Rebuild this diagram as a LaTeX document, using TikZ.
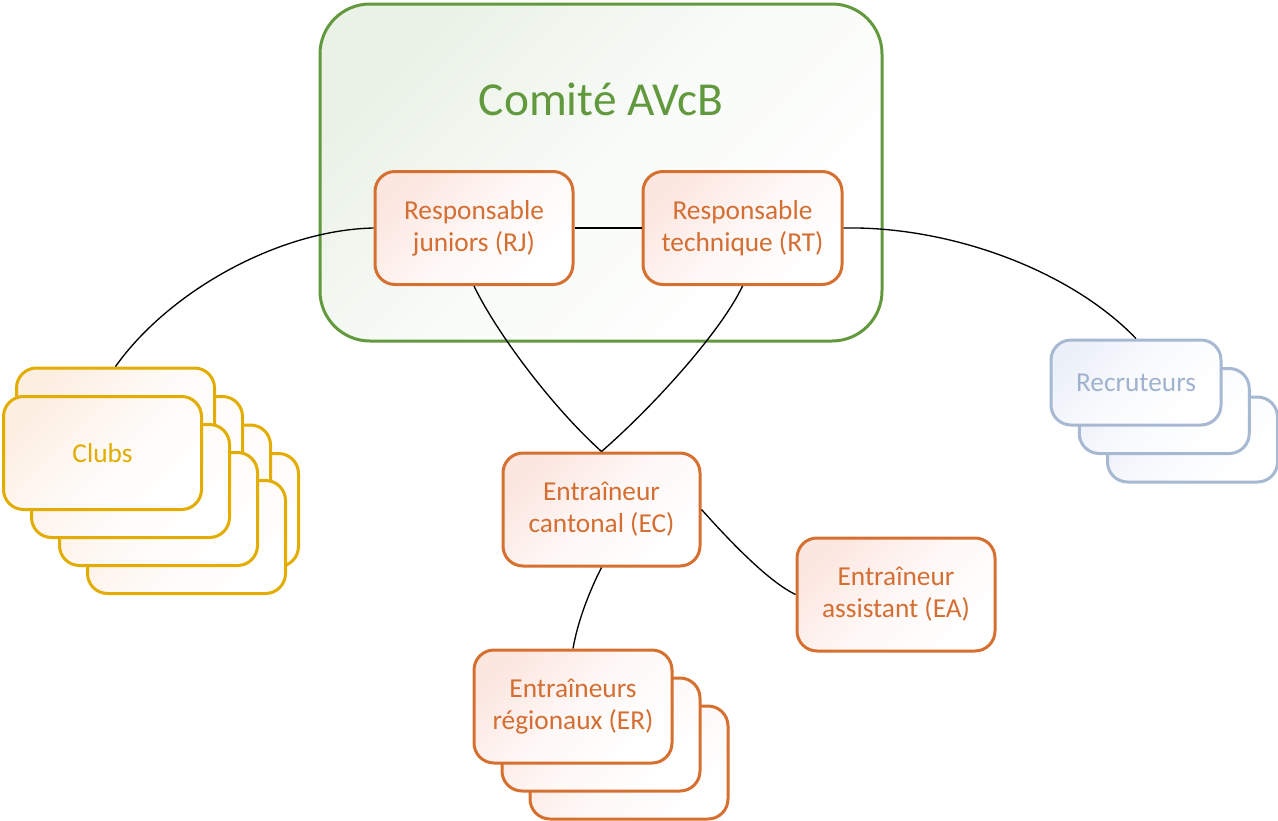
\documentclass[tikz,border=0pt]{standalone}
\usepackage{fontspec}
\setmainfont{Carlito}
\definecolor{cgreen}{RGB}{98,153,62}
\definecolor{gfill}{RGB}{234,242,231}
\definecolor{corange}{RGB}{214,112,48}
\definecolor{otext}{RGB}{212,110,50}
\definecolor{ofill}{RGB}{252,230,224}
\definecolor{cyellow}{RGB}{226,172,0}
\definecolor{yfill}{RGB}{253,238,226}
\definecolor{cblue}{RGB}{167,185,210}
\definecolor{btext}{RGB}{160,178,206}
\definecolor{bfill}{RGB}{236,241,249}
\tikzset{
  basebox/.style={line width=2.25pt, rounded corners=15pt, inner sep=0pt, align=center,
    font=\fontsize{20.5}{24}\selectfont, minimum width=148.5pt, minimum height=84.75pt},
  obox/.style={basebox, draw=corange, text=otext, top color=ofill, bottom color=white, middle color=ofill!30!white, shading angle=45},
  ybox/.style={basebox, draw=cyellow, text=cyellow, top color=yfill, bottom color=white, middle color=yfill!30!white, shading angle=45},
  bbox/.style={basebox, draw=cblue, text=btext, top color=bfill, bottom color=white, middle color=bfill!30!white, shading angle=45,
    minimum width=127.5pt, minimum height=63.75pt},
  link/.style={draw=black, line width=1pt}
}
\begin{document}
\begin{tikzpicture}[x=0.75pt,y=-0.75pt]
\useasboundingbox (0,0) rectangle (1278,821);
% Comite container
\node[draw=cgreen, line width=2.25pt, rounded corners=37.5pt, minimum width=421.5pt, minimum height=252.75pt,
  top color=gfill, bottom color=white, middle color=gfill!30!white, shading angle=45, inner sep=0pt] (comite) at (601,172.5) {};
\node[anchor=base, text=cgreen, font=\fontsize{35.5}{40}\selectfont, inner sep=0pt] (title) at (601,115) {Comité AVcB};
% Responsables
\node[obox] (rj) at (474,228) {Responsable\\juniors (RJ)};
\node[obox, minimum width=149.25pt] (rt) at (742.5,228) {Responsable\\technique (RT)};
% Clubs stacks
\foreach \k in {3,2,1,0} \node[ybox] (clubsA\k) at ({115.5+28*\k},{424.5+28.5*\k}) {};
\foreach \k in {3,2,1} \node[ybox] (clubsB\k) at ({102.5+28*\k},{453+28*\k}) {};
\node[ybox] (clubs) at (102.5,453) {Clubs};
% Recruteurs
\foreach \k in {2,1} \node[bbox] (recr\k) at ({1136+28.25*\k},{382.5+28.5*\k}) {};
\node[bbox] (recr) at (1136,382.5) {Recruteurs};
% Entraineurs
\node[obox, minimum width=147.75pt] (ec) at (601.5,509.5) {Entraîneur\\cantonal (EC)};
\node[obox] (ea) at (896,594.5) {Entraîneur\\assistant (EA)};
\foreach \k in {2,1} \node[obox] (er\k) at ({573+28*\k},{706.5+28*\k}) {};
\node[obox] (er) at (573,706.5) {Entraîneurs\\régionaux (ER)};
% Connectors
\draw[link] (rj.west) .. controls (280,230) and (170,290) .. (clubsA0.north);
\draw[link] (rj.east) -- (rt.west);
\draw[link] (rt.east) .. controls (950,226) and (1070,270) .. (recr.north);
\draw[link] (rj.south) .. controls (495,330) and (550,405) .. (ec.north);
\draw[link] (rt.south) .. controls (722,330) and (655,405) .. (ec.north);
\draw[link] (ec.east) .. controls (720,530) and (765,580) .. (ea.west);
\draw[link] (ec.south) .. controls (590,590) and (578,620) .. (er.north);
\end{tikzpicture}
\end{document}
